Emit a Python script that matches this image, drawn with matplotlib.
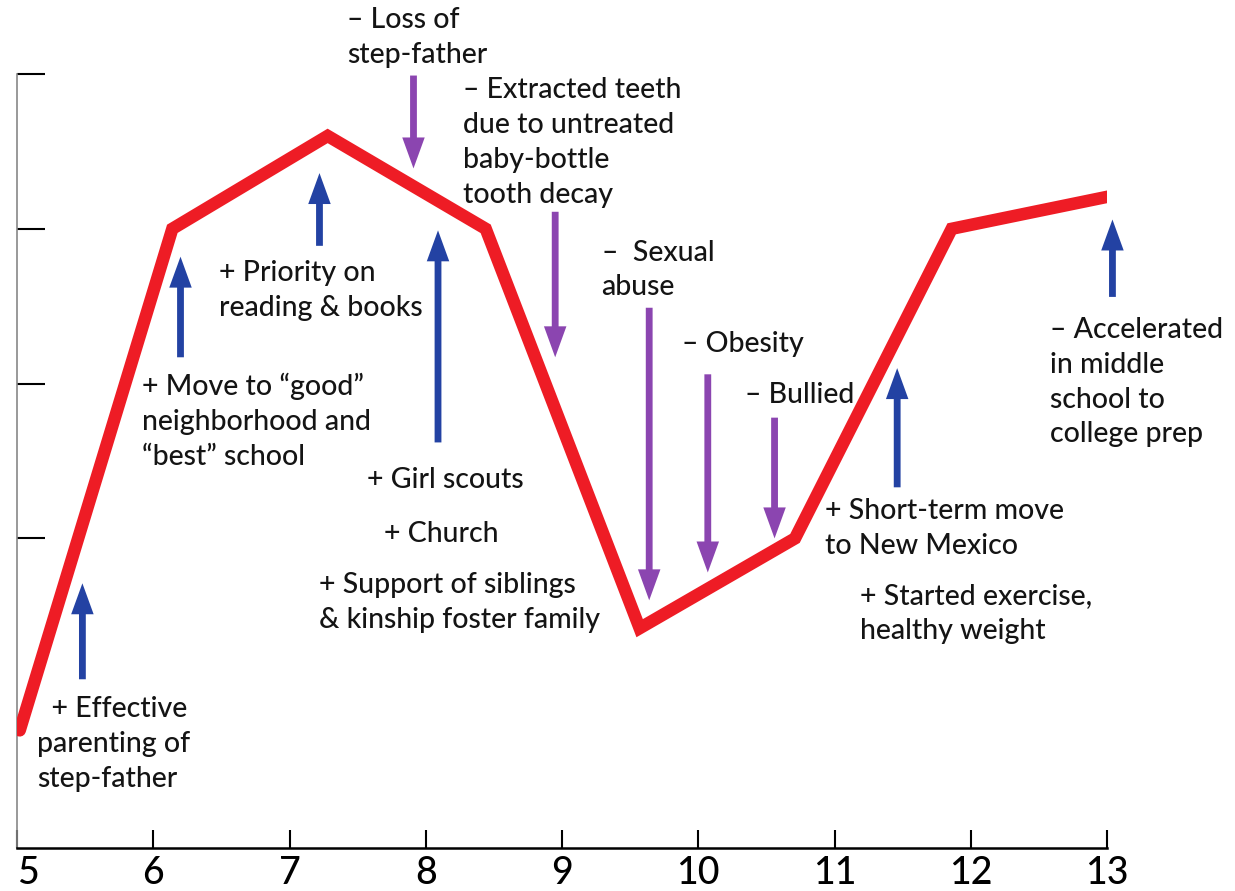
import matplotlib
matplotlib.use('Agg')
import matplotlib.pyplot as plt

# life course trajectory (age, wellbeing)
ages = [5.02, 6.14, 7.28, 8.44, 9.57, 10.71, 11.86, 13.02]
level = [0.76, 4.0, 4.6, 4.0, 1.42, 2.0, 4.0, 4.21]

# positive events: blue arrows pointing up (x, tail, tip)
pos_x = [5.48, 6.20, 7.22, 8.09, 11.46, 13.04]
pos_tail = [1.09, 3.17, 3.89, 2.62, 2.33, 3.56]
pos_tip = [1.71, 3.82, 4.36, 3.99, 3.10, 4.06]

# negative events: purple arrows pointing down
neg_x = [7.91, 8.95, 9.64, 10.07, 10.56]
neg_tail = [4.99, 4.11, 3.49, 3.06, 2.78]
neg_tip = [4.39, 3.17, 1.60, 1.78, 2.00]

labels = [
    "\u2013 Loss of\nstep-father",
    "\u2013 Extracted teeth\ndue to untreated\nbaby-bottle\ntooth decay",
    "\u2013  Sexual\nabuse",
    "\u2013 Obesity",
    "\u2013 Bullied",
    "\u2013 Accelerated\nin middle\nschool to\ncollege prep",
    "+ Short-term move\nto New Mexico",
    "+ Started exercise,\nhealthy weight",
    "+ Girl scouts",
    "+ Church",
    "+ Support of siblings\n& kinship foster family",
    "+ Priority on\nreading & books",
    "+ Move to \u201cgood\u201d\nneighborhood and\n\u201cbest\u201d school",
    "  + Effective\nparenting of\nstep-father",
]
label_x = [7.42, 8.27, 9.29, 9.88, 10.34, 12.58, 10.93, 11.19, 7.57, 7.69, 7.22, 6.48, 5.92, 5.15]
label_y = [5.43, 4.98, 3.93, 3.34, 3.01, 3.43, 2.26, 1.71, 2.46, 2.11, 1.78, 3.80, 3.07, 0.98]

age_ticks = list(range(5, 14))

plt.rcParams['font.family'] = ['Lato', 'DejaVu Sans']

fig = plt.figure(figsize=(12.35, 8.91), dpi=100)
ax = fig.add_axes([17/1235, 43/891, 1090/1235, 774/891])
ax.set_xlim(5, 13)
ax.set_ylim(0, 5)

ax.plot(ages, level, color='#ee1c25', lw=9, solid_capstyle='round',
        solid_joinstyle='miter', zorder=3)

for x, a, b in zip(pos_x, pos_tail, pos_tip):
    ax.arrow(x, a, 0, b - a, width=0.05, head_width=0.165, head_length=0.2,
             length_includes_head=True, color='#2342a3', lw=0, zorder=4,
             clip_on=False)
for x, a, b in zip(neg_x, neg_tail, neg_tip):
    ax.arrow(x, a, 0, b - a, width=0.05, head_width=0.165, head_length=0.2,
             length_includes_head=True, color='#8b45b0', lw=0, zorder=4,
             clip_on=False)

for s, x, y in zip(labels, label_x, label_y):
    ax.text(x, y, s, fontsize=20.5, ha='left', va='top', linespacing=1.42,
            color='#141414', fontweight='medium', clip_on=False)

for side in ['top', 'right']:
    ax.spines[side].set_visible(False)
ax.spines['left'].set_color('#888888')
ax.spines['left'].set_linewidth(1.2)
ax.spines['bottom'].set_linewidth(1.8)

ax.set_xticks(age_ticks)
ax.set_xticklabels([str(a) for a in age_ticks])
ax.set_yticks([2, 3, 4, 5])
ax.set_yticklabels([])
ax.tick_params(axis='x', direction='in', length=13, width=1.5, labelsize=27, pad=6)
ax.tick_params(axis='y', direction='in', length=20, width=1.5)
for lab in ax.get_xticklabels():
    lab.set_fontweight('medium')
ax.get_xticklabels()[0].set_ha('left')

fig.savefig('out.png', dpi=100)
